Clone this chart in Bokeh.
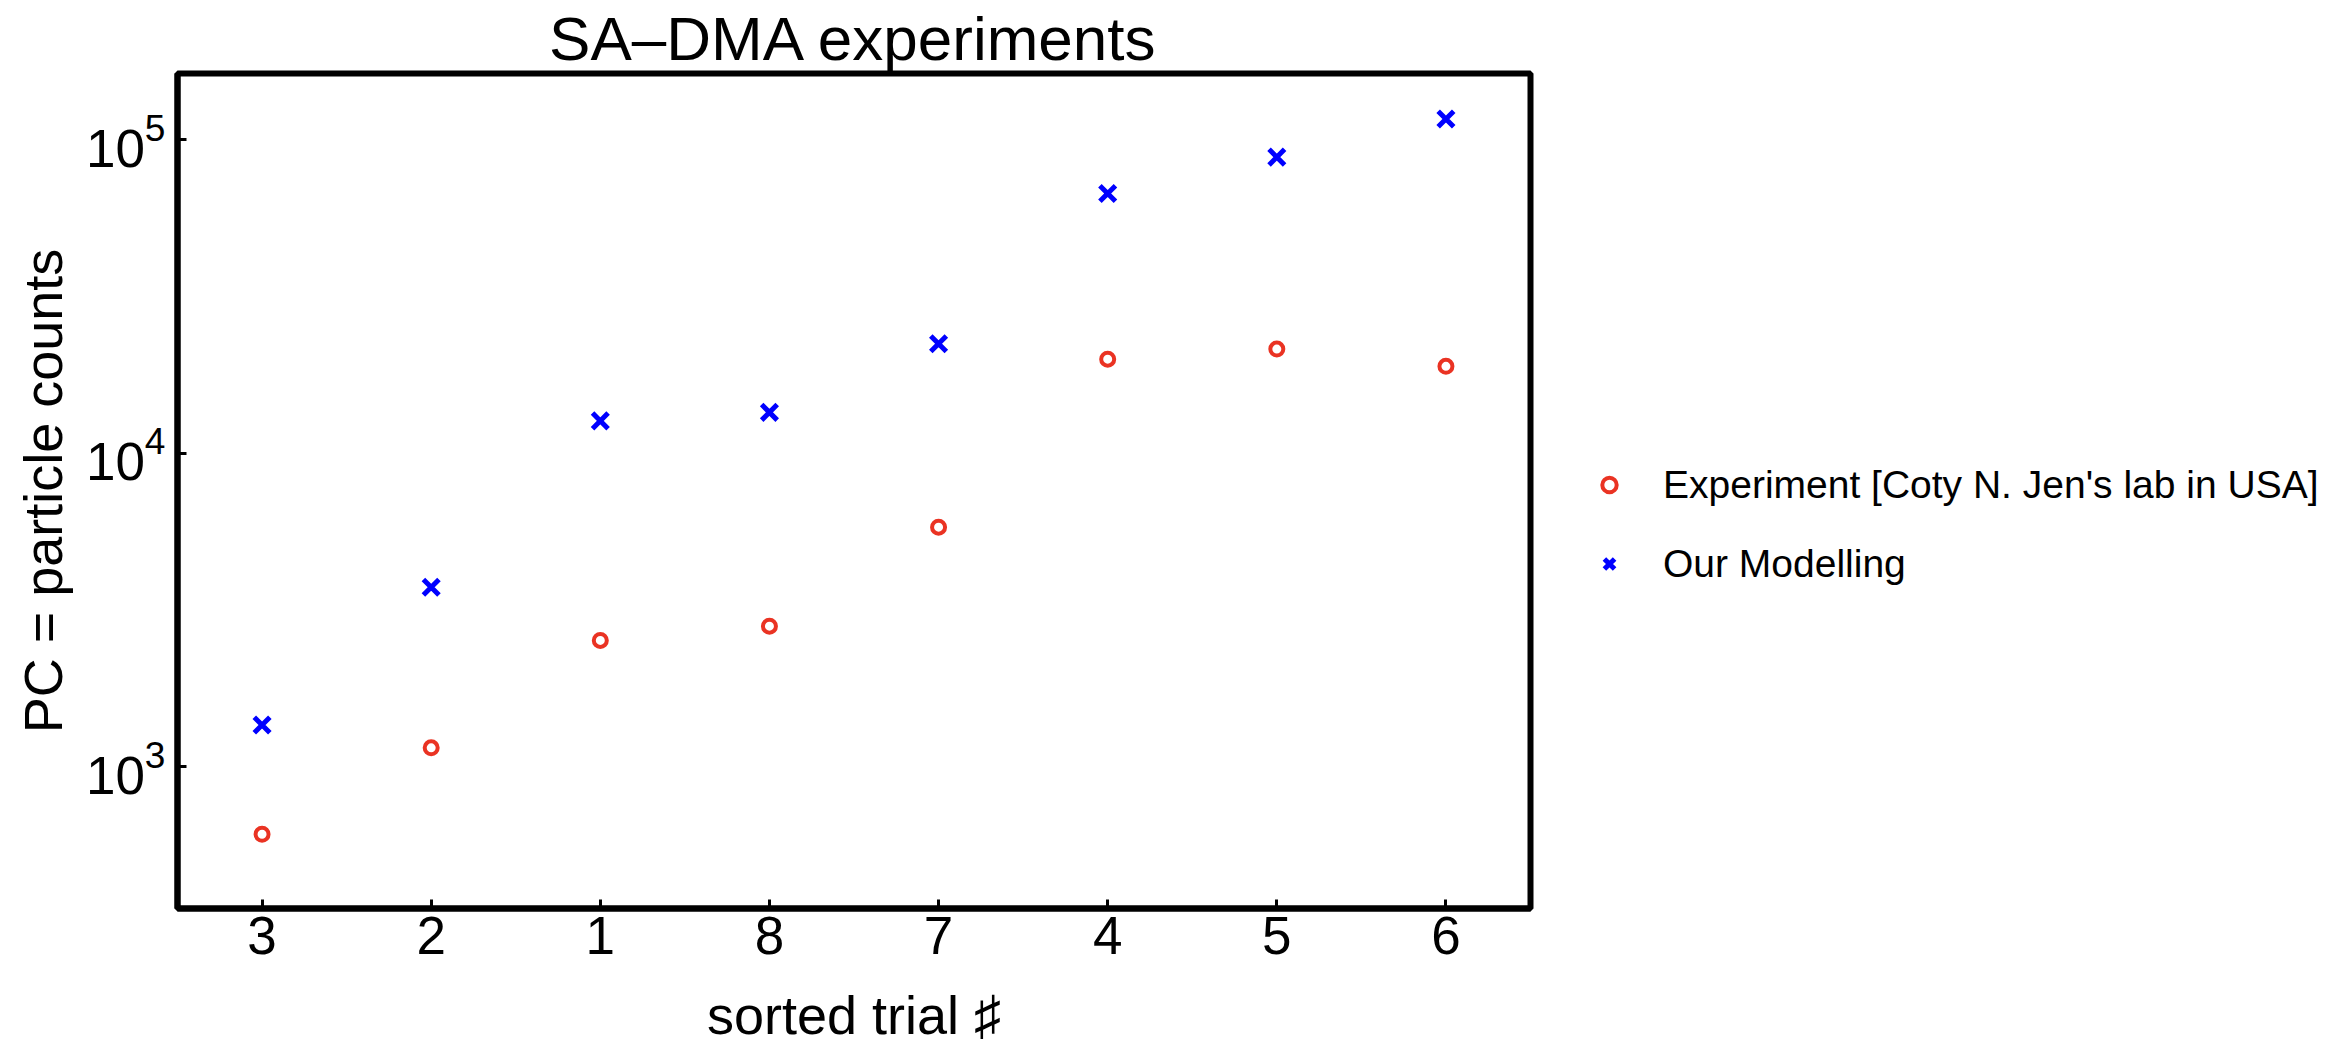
from bokeh.plotting import figure
from bokeh.layouts import row
from bokeh.models import FactorRange, Range1d, FixedTicker, LogTickFormatter, Legend, LegendItem
from bokeh.embed import file_html
from bokeh.resources import INLINE

# ---- data ----
trials = ["3", "2", "1", "8", "7", "4", "5", "6"]
experiment = [610, 1150, 2530, 2810, 5810, 19950, 21480, 18920]
modelling = [1360, 3740, 12680, 13500, 22340, 67300, 87900, 116300]
y_ticks = [1e3, 1e4, 1e5]
series_labels = ["Experiment [Coty N. Jen's lab in USA]", "Our Modelling"]

FONT = "Liberation Sans"
RED = "#ea3323"
BLUE = "#0000ff"

p = figure(width=1560, height=1047, output_backend="svg", toolbar_location=None,
           x_range=FactorRange(factors=trials), y_range=Range1d(353.6, 162400),
           y_axis_type="log",
           min_border_left=177, min_border_right=30, min_border_top=73, min_border_bottom=137)

p.title.text = "SA\u2013DMA experiments"
p.title.align = "center"
p.title.vertical_align = "middle"
p.title.text_font = FONT
p.title.text_font_size = "62px"
p.title.text_font_style = "normal"
p.title.text_color = "black"
p.title.standoff = 0

p.background_fill_color = "white"
p.border_fill_color = "white"
p.outline_line_color = "black"
p.outline_line_width = 6
p.grid.visible = False

for ax in (p.xaxis[0], p.yaxis[0]):
    ax.axis_line_color = "black"
    ax.axis_line_width = 6
    ax.major_tick_in = 9
    ax.major_tick_out = 0
    ax.major_tick_line_width = 3
    ax.major_tick_line_color = "black"
    ax.minor_tick_line_color = None
    ax.major_label_text_font = FONT
    ax.major_label_text_font_size = "53px"
    ax.major_label_text_color = "black"
    ax.axis_label_text_font = FONT
    ax.axis_label_text_font_size = "54px"
    ax.axis_label_text_font_style = "normal"
    ax.axis_label_text_color = "black"

p.yaxis.ticker = FixedTicker(ticks=y_ticks, minor_ticks=[])
p.yaxis.formatter = LogTickFormatter()
p.yaxis.major_label_standoff = 12
p.yaxis.axis_label = "PC = particle counts"
p.yaxis.axis_label_standoff = 10

p.xaxis.major_label_standoff = 8
p.xaxis.axis_label = "sorted trial \u266f"
p.xaxis.axis_label_standoff = 28

exp_style = dict(marker="circle", size=13, line_width=4, line_color=RED, fill_color=None)
mod_style = dict(marker="x", size=22, line_width=5, line_color=BLUE)

p.scatter(trials, experiment, **exp_style)
p.scatter(trials, modelling, **mod_style)

# ---- legend panel (same series; its data lies outside this panel's view) ----
p2 = figure(width=791, height=1047, output_backend="svg", toolbar_location=None,
            x_range=FactorRange(factors=trials), y_range=Range1d(1e7, 1e8),
            y_axis_type="log", min_border=0)
p2.axis.visible = False
p2.grid.visible = False
p2.outline_line_color = None
p2.background_fill_color = "white"
p2.border_fill_color = "white"

l_exp = p2.scatter(trials, experiment, **exp_style)
l_mod = p2.scatter(trials, modelling, **mod_style)

legend = Legend(items=[LegendItem(label=series_labels[0], renderers=[l_exp]),
                       LegendItem(label=series_labels[1], renderers=[l_mod])],
                location=(31, 322), orientation="vertical",
                border_line_color=None, background_fill_alpha=0,
                padding=0, margin=0, spacing=34,
                glyph_width=36, glyph_height=45, label_height=45,
                label_standoff=36,
                label_text_font=FONT, label_text_font_size="39px",
                label_text_color="black",
                label_text_baseline="middle")
p2.add_layout(legend)

layout = row(p, p2, spacing=0)
open("out.html", "w").write(file_html(layout, INLINE))
